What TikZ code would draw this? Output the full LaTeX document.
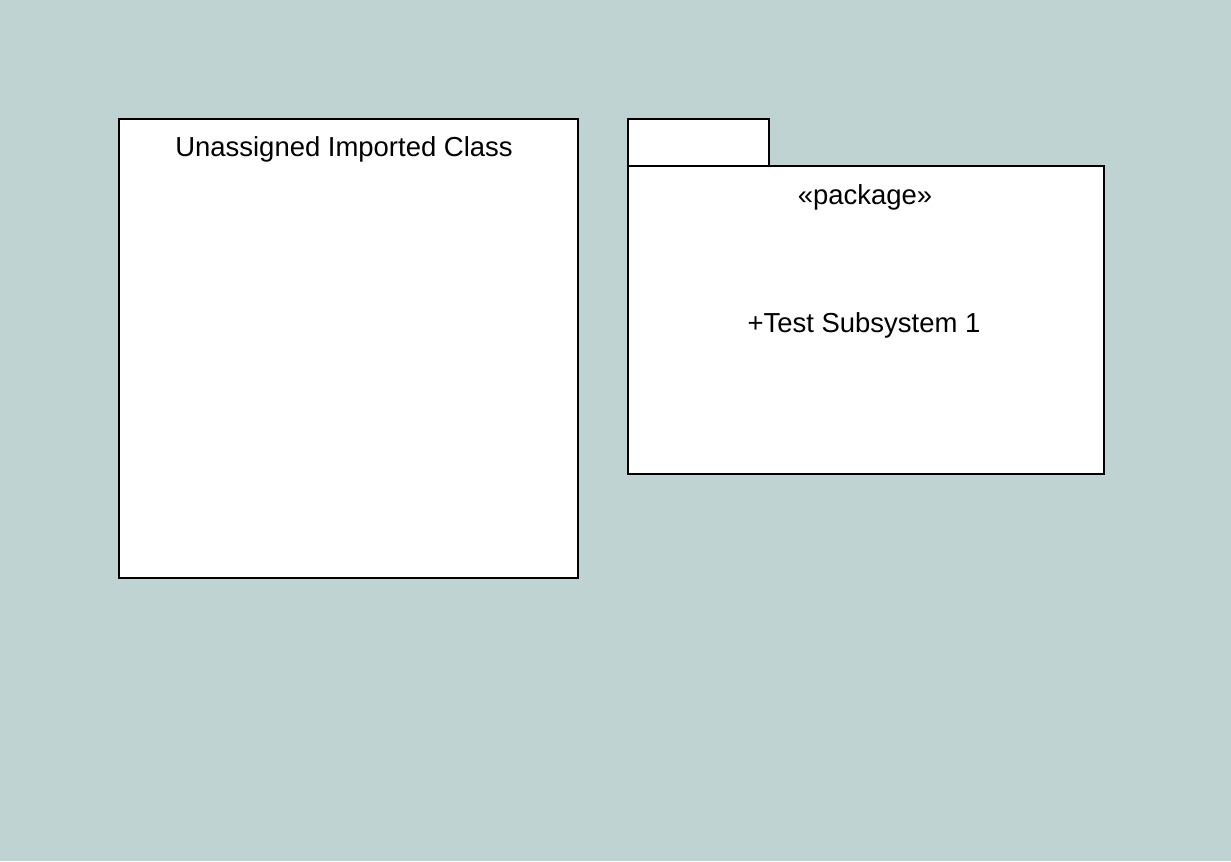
\documentclass[tikz,border=0pt]{standalone}
\usepackage{fontspec}
\setmainfont{Liberation Sans}
\definecolor{bg}{HTML}{BFD3D2}
\begin{document}
\begin{tikzpicture}[x=0.75pt,y=-0.75pt,
  box/.style={draw=black,fill=white,line width=1.3pt},
  lbl/.style={font=\fontsize{20.6}{24}\selectfont,inner sep=0pt,anchor=center}]
\fill[bg] (0,0) rectangle (1231,861);
\useasboundingbox (0,0) rectangle (1231,861);
% class box
\draw[box] (119,119) rectangle (578,578);
\coordinate (classtop) at (344,149);
\node[lbl] (classname) at (classtop) {Unassigned Imported Class};
% package
\draw[box] (628,119) rectangle (769,166);
\draw[box] (628,166) rectangle (1104,474);
\node[lbl] (stereo) at (865,197) {«package»};
\node[lbl] (member) at (864,325) {+Test Subsystem 1};
\end{tikzpicture}
\end{document}
